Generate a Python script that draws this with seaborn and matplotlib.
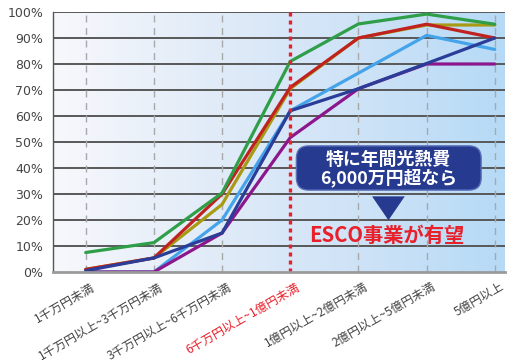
import numpy as np
import pandas as pd
import matplotlib
matplotlib.use("Agg")
import matplotlib.pyplot as plt
from matplotlib.patches import FancyBboxPatch, Polygon
from matplotlib.colors import LinearSegmentedColormap
from matplotlib.transforms import ScaledTranslation
import seaborn as sns

sns.set_theme(style="white")
plt.rcParams["font.family"] = ["Noto Sans CJK JP", "DejaVu Sans"]

categories = [
    "1千万円未満",
    "1千万円以上~3千万円未満",
    "3千万円以上~6千万円未満",
    "6千万円以上~1億円未満",
    "1億円以上~2億円未満",
    "2億円以上~5億円未満",
    "5億円以上",
]

series_green = [7.5, 11.3, 30.4, 81, 95.4, 99.2, 95.3]
series_olive = [1, 5.4, 26, 70.5, 90, 95, 95]
series_red = [1, 5.4, 30, 71, 90, 95.3, 90]
series_lightblue = [0, 0, 20, 62, 76.5, 91, 85.6]
series_purple = [0, 0, 15, 51.7, 70.5, 80, 80]
series_navy = [0.5, 5.4, 15, 62, 70.5, 80.2, 90]

series = {
    "lightblue": series_lightblue,
    "purple": series_purple,
    "olive": series_olive,
    "red": series_red,
    "navy": series_navy,
    "green": series_green,
}
palette = {
    "green": "#2f9e48",
    "olive": "#a89a12",
    "red": "#c0231f",
    "lightblue": "#45a3ea",
    "navy": "#2a3d99",
    "purple": "#8c168c",
}

rows = []
for name, vals in series.items():
    for i, v in enumerate(vals):
        rows.append({"cat": i, "value": v, "series": name})
df = pd.DataFrame(rows)

fig = plt.figure(figsize=(5.07, 3.63), dpi=100)
ax = fig.add_axes([53 / 507, 1 - 272 / 363, (505 - 53) / 507, (272 - 12) / 363])

x_lo, x_hi = -0.48, 6.15
ax.set_xlim(x_lo, x_hi)
ax.set_ylim(0, 100)

# horizontal blue gradient background
grad = LinearSegmentedColormap.from_list(
    "bg", ["#f7f8fc", "#e2ecf8", "#cfe3f7", "#b6daf6"])
ax.imshow(np.linspace(0, 1, 256).reshape(1, -1), cmap=grad, aspect="auto",
          extent=(x_lo, x_hi, 0, 100), zorder=0, interpolation="bicubic")

# grid
for yv in range(10, 101, 10):
    ax.axhline(yv, color="#585858", lw=1.4, zorder=1)
for i in range(len(categories)):
    if i == 3:
        continue
    ax.axvline(i, color="#a8a8a8", lw=1.0, ls=(0, (5, 4)), zorder=1)
ax.axvline(3, color="#e8202a", lw=2.4, ls=(0, (1.2, 1.2)), zorder=4)

sns.lineplot(data=df, x="cat", y="value", hue="series", palette=palette,
             hue_order=list(series.keys()), lw=2.3, legend=False, ax=ax,
             zorder=3)

for s in ["top", "right"]:
    ax.spines[s].set_visible(False)
ax.spines["left"].set_color("#555555")
ax.spines["left"].set_linewidth(1.0)
ax.spines["bottom"].set_color("#9a9a9a")
ax.spines["bottom"].set_linewidth(2.0)
ax.spines["bottom"].set_zorder(5)

ax.set_xlabel("")
ax.set_ylabel("")
ax.set_yticks(range(0, 101, 10))
ax.set_yticklabels([f"{v}%" for v in range(0, 101, 10)],
                   fontsize=9, color="#444444", family=["DejaVu Sans"])
ax.tick_params(axis="y", length=0, pad=7)
ax.set_xticks(range(len(categories)))
ax.set_xticklabels(categories, rotation=30, ha="right",
                   rotation_mode="anchor", fontsize=8.7, color="#444444")
ax.tick_params(axis="x", length=0, pad=6)
shift = ScaledTranslation(5 / 100, 0, fig.dpi_scale_trans)
for lab in ax.get_xticklabels():
    lab.set_transform(lab.get_transform() + shift)
ax.get_xticklabels()[3].set_color("#e8202a")

# callout
navy = "#263a8f"
box = FancyBboxPatch((3.09, 31.5), 5.80 - 3.09, 48.5 - 31.5,
                     boxstyle="round,pad=0,rounding_size=0.18",
                     mutation_aspect=26.2, facecolor=navy,
                     edgecolor="#5a6fb8", lw=1.0, zorder=6)
ax.add_patch(box)
ax.text(4.44, 43.2, "特に年間光熱費", ha="center", va="center",
        fontsize=12.9, fontweight="bold", color="white", zorder=7)
ax.text(4.44, 36.2, "6,000万円超なら", ha="center", va="center",
        fontsize=12.9, fontweight="bold", color="white", zorder=7)
ax.add_patch(Polygon([(4.20, 29.1), (4.68, 29.1), (4.44, 19.9)],
                     closed=True, facecolor=navy, edgecolor="none", zorder=6))
ax.text(4.42, 14.2, "ESCO事業が有望", ha="center", va="center",
        fontsize=14.6, fontweight="bold", color="#e8202a", zorder=7)

fig.savefig("out.png", dpi=100)
